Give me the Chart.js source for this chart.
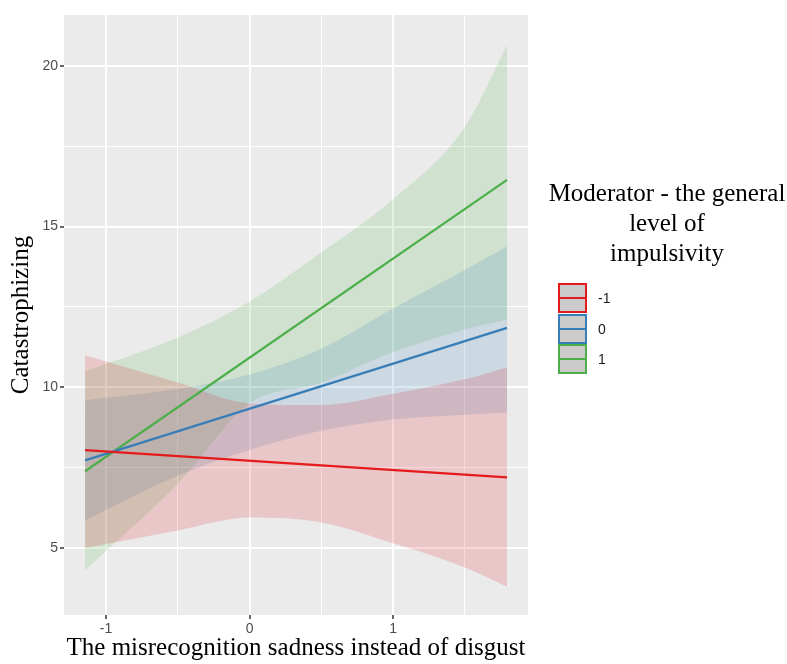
<!DOCTYPE html>
<html><head><meta charset="utf-8">
<script src="https://cdn.jsdelivr.net/npm/chart.js@4.4.1/dist/chart.umd.min.js"></script>
<style>
html,body{margin:0;padding:0;background:#fff;}
#wrap{position:relative;width:787px;height:664px;overflow:hidden;}
#c{position:absolute;left:0;top:0;}
#ltitle{position:absolute;left:537px;top:178px;width:260px;text-align:center;font-family:'Liberation Serif','Times New Roman',serif;font-size:25px;line-height:30px;color:#000;}
.key{position:absolute;left:558px;width:25px;height:26px;border:2px solid;background:#CBCBCB;}
.key span{position:absolute;left:0;right:0;top:12px;height:2px;}
.klab{position:absolute;left:598px;font-family:'Liberation Sans',Arial,sans-serif;font-size:14px;color:#1a1a1a;line-height:16px;}
</style></head>
<body><div id="wrap"><canvas id="c" width="787" height="664"></canvas>
<div id="ltitle">Moderator - the general<br>level of<br>impulsivity</div>
<div id="keys"></div>
</div>
<script>
// ---- data ----
const groups = ['-1', '0', '1'];
const groupColors = ['#E41A1C', '#377EB8', '#4DAF4A'];
const xLine = [-1.146, 1.794];
const redLine = [8.05, 7.20];
const blueLine = [7.73, 11.85];
const greenLine = [7.39, 16.45];
const xBand = [-1.146, -0.5, 0, 0.5, 1, 1.5, 1.794];
const redUpper = [11.0, 10.15, 9.5, 9.45, 9.8, 10.25, 10.62];
const redLower = [5.0, 5.55, 5.95, 5.8, 5.15, 4.4, 3.8];
const blueUpper = [9.6, 9.95, 10.4, 11.2, 12.45, 13.65, 14.38];
const blueLower = [5.87, 7.25, 8.05, 8.65, 9.0, 9.15, 9.22];
const greenUpper = [10.5, 11.55, 12.67, 14.2, 15.85, 18.1, 20.65];
const greenLower = [4.31, 7.0, 9.5, 10.15, 11.1, 11.8, 12.11];
const xTicks = [-1, -0.5, 0, 0.5, 1, 1.5];
const yTicks = [5, 7.5, 10, 12.5, 15, 17.5, 20];
const xMajor = [-1, 0, 1];
const yMajor = [5, 10, 15, 20];

const zip = (xs, ys) => xs.map((x, i) => ({x: x, y: ys[i]}));
function rgba(hex, a) {
  const n = parseInt(hex.slice(1), 16);
  return `rgba(${(n>>16)&255},${(n>>8)&255},${n&255},${a})`;
}
const lines = [redLine, blueLine, greenLine];
const uppers = [redUpper, blueUpper, greenUpper];
const lowers = [redLower, blueLower, greenLower];

const datasets = [];
lines.forEach((l, i) => datasets.push({
  label: groups[i], data: zip(xLine, l), borderColor: groupColors[i], borderWidth: 2.2,
  pointRadius: 0, fill: false, showLine: true
}));
uppers.forEach((u, i) => {
  datasets.push({label: groups[i] + ' upper', data: zip(xBand, u), borderWidth: 0, borderColor: 'rgba(0,0,0,0)',
    pointRadius: 0, fill: '+1', backgroundColor: rgba(groupColors[i], 0.17), showLine: true,
    cubicInterpolationMode: 'monotone'});
  datasets.push({label: groups[i] + ' lower', data: zip(xBand, lowers[i]), borderWidth: 0, borderColor: 'rgba(0,0,0,0)',
    pointRadius: 0, fill: false, showLine: true, cubicInterpolationMode: 'monotone'});
});

const panelBg = {
  id: 'panelBg',
  beforeDraw(chart) {
    const a = chart.chartArea, ctx = chart.ctx;
    ctx.save(); ctx.fillStyle = '#EBEBEB';
    ctx.fillRect(a.left, a.top, a.right - a.left, a.bottom - a.top); ctx.restore();
  }
};

function axis(ticksList, majors, min, max, title, isX) {
  return {
    type: 'linear', min: min, max: max,
    afterBuildTicks: s => { s.ticks = ticksList.map(v => ({value: v})); },
    afterFit: s => { if (isX) s.height = 49; else s.width = 64; },
    border: {display: false},
    grid: {
      color: '#FFFFFF',
      lineWidth: c => majors.includes(c.tick.value) ? 2 : 1,
      tickColor: c => majors.includes(c.tick.value) ? '#333333' : 'rgba(0,0,0,0)',
      tickLength: 4, tickWidth: 1.5
    },
    ticks: {
      autoSkip: false, maxRotation: 0,
      callback: v => majors.includes(v) ? String(v) : '',
      font: {family: "'Liberation Sans', Arial, sans-serif", size: 14},
      color: '#4D4D4D', padding: 2
    },
    title: {display: true, text: title,
      font: {family: "'Liberation Serif', 'Times New Roman', serif", size: 25},
      color: '#000', padding: isX ? {top: 0, bottom: 1} : {top: 6, bottom: 2}}
  };
}

new Chart(document.getElementById('c'), {
  type: 'scatter',
  data: {datasets: datasets},
  options: {
    responsive: false, animation: false,
    layout: {padding: {left: 0, top: 15, right: 259, bottom: 0}},
    plugins: {legend: {display: false}, tooltip: {enabled: false}},
    scales: {
      x: axis(xTicks, xMajor, -1.293, 1.94, 'The misrecognition sadness instead of disgust', true),
      y: axis(yTicks, yMajor, 2.92, 21.58, 'Catastrophizing', false)
    }
  },
  plugins: [panelBg]
});

// legend keys
const keys = document.getElementById('keys');
groups.forEach((g, i) => {
  const top = 283 + i * 30.5;
  const k = document.createElement('div');
  k.className = 'key'; k.style.top = top + 'px'; k.style.borderColor = groupColors[i];
  const s = document.createElement('span'); s.style.background = groupColors[i]; k.appendChild(s);
  keys.appendChild(k);
  const lab = document.createElement('div');
  lab.className = 'klab'; lab.style.top = (top + 7) + 'px'; lab.textContent = g;
  keys.appendChild(lab);
});
</script></body></html>
